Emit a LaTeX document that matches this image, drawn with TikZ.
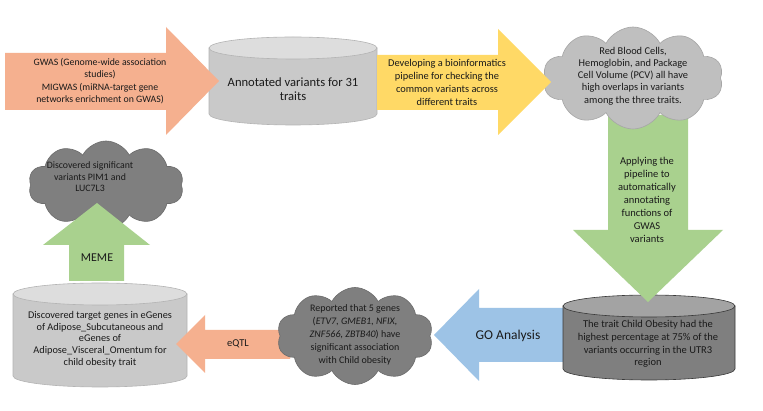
\documentclass[tikz,border=0pt]{standalone}
\usepackage{fontspec}
\setmainfont{Carlito}
\usetikzlibrary{shapes.symbols}
\definecolor{orangeA}{HTML}{F5B08F}
\definecolor{yellowA}{HTML}{FFD966}
\definecolor{greenA}{HTML}{A9D18E}
\definecolor{blueA}{HTML}{9DC3E6}
\definecolor{lgBody}{HTML}{C9C9C9}
\definecolor{lgTop}{HTML}{DDDDDD}
\definecolor{lgLine}{HTML}{B4B4B4}
\definecolor{dgBody}{HTML}{7F7F7F}
\definecolor{dgTop}{HTML}{A3A3A3}
\definecolor{dgLine}{HTML}{3A3A3A}
\definecolor{cloudL}{HTML}{BFBFBF}
\definecolor{cloudLline}{HTML}{A6A6A6}
\definecolor{cloudD}{HTML}{7F7F7F}
\definecolor{cloudDline}{HTML}{6B6B6B}
\definecolor{txtc}{HTML}{1A1A1A}
% cylinder: L R T B rx cx body top line
\newcommand\mycyl[9]{%
  \filldraw[draw=#9, fill=#7, line width=0.6pt] (#1,#3+11) -- (#1,#4-11)
    arc[start angle=180,end angle=360,x radius=#5pt,y radius=11pt] -- (#2,#3+11) -- cycle;
  \filldraw[draw=#9, fill=#8, line width=0.6pt] (#6,#3+11) ellipse[x radius=#5pt,y radius=11pt];
}
\tikzset{
  txt/.style={align=center, text=txtc, inner sep=0pt},
  cloudshape/.style={cloud, cloud puffs=10, cloud puff arc=125, inner sep=0pt, line width=0.6pt},
}
\begin{document}
\begin{tikzpicture}[x=1pt,y=-1pt]
\useasboundingbox[fill=white] (0,0) rectangle (763,411);

% cylinder 1
\mycyl{209}{377}{37}{125}{84}{293}{lgBody}{lgTop}{lgLine}
\node[txt, font=\fontsize{12.6}{14}\selectfont] (cyl1) at (293,89) {Annotated variants for 31\\traits};

% arrow 1
\fill[orangeA] (5,53) -- (166,53) -- (166,27) -- (219,81) -- (166,135) -- (166,110) -- (5,110) -- cycle;
\node[txt, font=\fontsize{9.8}{12.3}\selectfont] (a1) at (100,81) {GWAS (Genome-wide association\\studies)\\MIGWAS (miRNA-target gene\\networks enrichment on GWAS)};

% cylinder 3
\mycyl{13}{187}{283}{387}{87}{100}{lgBody}{lgTop}{lgLine}
\node[txt, font=\fontsize{10.3}{11.7}\selectfont] (cyl3) at (100,339) {Discovered target genes in eGenes\\of Adipose\_Subcutaneous and\\eGenes of\\Adipose\_Visceral\_Omentum for\\child obesity trait};

% eQTL arrow
\fill[orangeA] (290,330) -- (205,330) -- (205,315) -- (176,344) -- (205,373) -- (205,359) -- (290,359) -- cycle;
\node[txt, font=\fontsize{10.5}{12}\selectfont] (eqtl) at (238,344) {eQTL};

% cloud 2
\node[cloudshape, fill=cloudD, draw=cloudDline, minimum width=156pt, minimum height=97pt, aspect=1.6] (cl2) at (355,336) {};
\node[txt, font=\fontsize{10}{13}\selectfont] (cl2t) at (355,335) {Reported that 5 genes\\(\textit{ETV7, GMEB1, NFIX,}\\\textit{ZNF566, ZBTB40}) have\\significant association\\with Child obesity};

% blue arrow
\fill[blueA] (566,308) -- (479,308) -- (479,289) -- (434,335) -- (479,381) -- (479,362) -- (566,362) -- cycle;
\node[txt, font=\fontsize{13.5}{14}\selectfont] (go) at (508,336) {GO Analysis};

% cylinder 2
\mycyl{563}{735}{295}{380}{86}{649}{dgBody}{dgTop}{dgLine}
\node[txt, font=\fontsize{10.5}{12.7}\selectfont] (cyl2) at (648,344) {The trait Child Obesity had the\\highest percentage at 75\% of the\\variants occurring in the UTR3\\region};

% green down arrow
\fill[greenA] (608,115) -- (688,115) -- (688,230) -- (723,230) -- (648,302) -- (573,230) -- (608,230) -- cycle;
\node[txt, font=\fontsize{10.5}{13}\selectfont] (g1) at (647,200) {Applying the\\pipeline to\\automatically\\annotating\\functions of\\GWAS\\variants};

% cloud 1
\node[cloudshape, fill=cloudL, draw=cloudLline, minimum width=180pt, minimum height=102pt, aspect=1.77] (cl1) at (633,78) {};
\node[txt, font=\fontsize{10.4}{12.2}\selectfont] (cl1t) at (633,76) {Red Blood Cells,\\Hemoglobin, and Package\\Cell Volume (PCV) all have\\high overlaps in variants\\among the three traits.};

% arrow 2
\fill[yellowA] (377,55) -- (498,55) -- (498,29) -- (551,82) -- (498,135) -- (498,110) -- (377,110) -- cycle;
\node[txt, font=\fontsize{10.4}{13}\selectfont] (a2) at (447,82) {Developing a bioinformatics\\pipeline for checking the\\common variants across\\different traits};

% cloud 3
\node[cloudshape, fill=cloudD, draw=cloudDline, minimum width=155pt, minimum height=88pt, aspect=1.78] (cl3) at (106,185) {};
\node[txt, font=\fontsize{9.8}{11.5}\selectfont] (cl3t) at (90,177) {Discovered significant\\variants PIM1 and\\LUC7L3};

% MEME arrow
\fill[greenA] (69,281) -- (69,245) -- (43,245) -- (97,203) -- (150,245) -- (124,245) -- (124,281) -- cycle;
\node[txt, font=\fontsize{12}{13}\selectfont] (meme) at (97,258) {MEME};
\end{tikzpicture}
\end{document}
